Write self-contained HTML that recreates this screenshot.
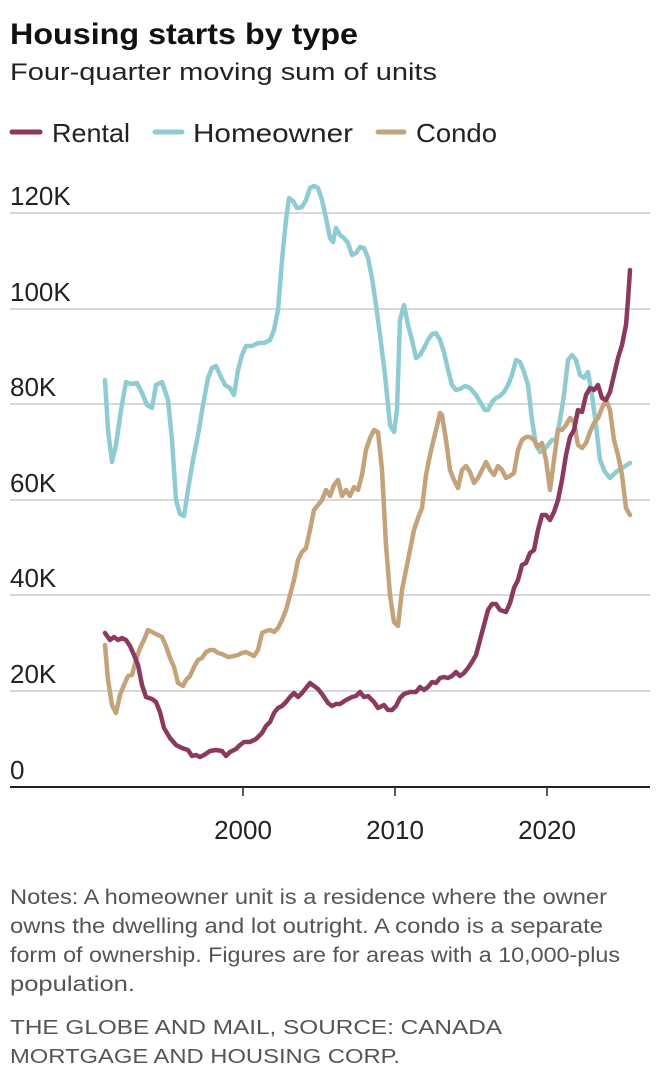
<!DOCTYPE html>
<html><head><meta charset="utf-8"><style>
body{margin:0;background:#fff;width:660px;height:1084px;overflow:hidden;font-family:"Liberation Sans",sans-serif;}
</style></head><body>
<svg width="660" height="1084" xmlns="http://www.w3.org/2000/svg" font-family="Liberation Sans, sans-serif">
<text x="10" y="44" font-size="30" font-weight="bold" fill="#111" textLength="348" lengthAdjust="spacingAndGlyphs">Housing starts by type</text>
<text x="10" y="80" font-size="24" fill="#222" textLength="427" lengthAdjust="spacingAndGlyphs">Four-quarter moving sum of units</text>
<line x1="12" y1="132" x2="40" y2="132" stroke="#8b3a5e" stroke-width="5" stroke-linecap="round"/>
<text x="52" y="142" font-size="26" fill="#222" textLength="78" lengthAdjust="spacingAndGlyphs">Rental</text>
<line x1="155" y1="132" x2="182" y2="132" stroke="#8ecbd3" stroke-width="5" stroke-linecap="round"/>
<text x="193" y="142" font-size="26" fill="#222" textLength="160" lengthAdjust="spacingAndGlyphs">Homeowner</text>
<line x1="378" y1="132" x2="404" y2="132" stroke="#c4a27a" stroke-width="5" stroke-linecap="round"/>
<text x="416" y="142" font-size="26" fill="#222" textLength="81" lengthAdjust="spacingAndGlyphs">Condo</text>
<g stroke="#ccc" stroke-width="1.5">
<line x1="10" y1="213" x2="650" y2="213"/><line x1="10" y1="309" x2="650" y2="309"/>
<line x1="10" y1="404" x2="650" y2="404"/><line x1="10" y1="500" x2="650" y2="500"/>
<line x1="10" y1="595" x2="650" y2="595"/><line x1="10" y1="691" x2="650" y2="691"/>
</g>
<line x1="10" y1="787" x2="650" y2="787" stroke="#222" stroke-width="2"/>
<g stroke="#222" stroke-width="1.5"><line x1="243" y1="787" x2="243" y2="796"/><line x1="395" y1="787" x2="395" y2="796"/><line x1="547" y1="787" x2="547" y2="796"/></g>
<g font-size="26" fill="#222">
<text x="10" y="205">120K</text><text x="10" y="301">100K</text><text x="10" y="396">80K</text>
<text x="10" y="492">60K</text><text x="10" y="587">40K</text><text x="10" y="683">20K</text><text x="10" y="779">0</text>
<text x="243" y="839" text-anchor="middle">2000</text><text x="395" y="839" text-anchor="middle">2010</text><text x="547" y="839" text-anchor="middle">2020</text>
</g>
<g fill="none" stroke-width="4.5" stroke-linejoin="round" stroke-linecap="round">
<polyline stroke="#8ecbd3" points="105,380 108,430 112,462 116,445 121,410 126,382 131,384 137,383 142,393 147,405 152,408 156,385 162,382 168,400 172,440 176,500 180,514 184,516 188,490 193,460 198,435 203,405 208,378 212,368 216,366 220,375 225,385 230,388 234,395 238,370 242,355 246,346 252,346 258,343 264,343 270,340 274,330 278,310 282,260 286,220 289,198 293,201 297,208 302,207 306,200 310,188 314,186 318,188 322,200 326,218 330,238 333,242 336,228 340,235 344,238 348,243 352,255 356,253 360,247 364,248 368,258 372,278 376,305 380,335 385,375 390,425 394,432 397,410 400,320 404,305 408,325 412,340 416,358 420,355 424,348 428,340 432,334 436,333 440,340 444,352 448,370 452,385 456,390 460,389 465,386 470,388 476,395 480,402 485,410 488,410 492,402 496,398 500,396 504,392 508,385 512,375 516,360 520,362 524,372 528,385 532,420 536,445 540,452 544,450 548,445 552,440 556,440 560,420 564,395 568,360 572,355 576,360 580,375 584,378 588,372 592,395 596,425 600,460 605,472 610,478 616,472 622,468 630,463"/>
<polyline stroke="#c4a27a" points="105,645 108,680 112,705 116,713 120,695 124,685 128,676 132,675 136,660 140,648 144,640 148,630 152,632 156,634 162,637 166,646 170,658 174,667 178,683 183,686 186,680 190,676 194,667 198,660 202,658 206,652 210,650 214,650 218,653 222,654 228,657 234,656 238,655 242,653 246,652 250,654 254,656 258,650 262,633 266,631 270,630 274,632 278,628 282,620 286,610 290,595 294,580 298,560 302,552 306,548 310,530 314,510 318,505 322,500 326,490 330,496 334,485 338,480 342,496 346,490 350,496 354,487 358,490 362,475 366,450 370,438 374,430 378,432 382,470 386,545 390,595 394,622 398,626 402,590 406,570 410,550 414,530 418,518 422,508 426,475 430,455 434,438 438,422 440,413 442,415 446,440 450,470 454,480 458,488 462,470 466,466 470,472 474,483 478,478 482,470 486,462 490,470 494,475 498,466 502,470 506,478 510,476 514,473 518,450 522,440 526,437 530,437 534,440 538,447 542,443 546,460 550,490 554,460 558,430 562,430 566,425 570,418 574,422 578,445 582,448 586,443 590,432 594,423 598,418 602,408 606,400 610,410 614,440 618,455 622,475 626,508 630,515"/>
<polyline stroke="#8b3a5e" points="105,633 110,640 114,637 118,640 122,638 126,640 130,646 134,655 138,665 142,685 146,697 152,699 156,702 160,712 164,728 170,738 176,745 182,748 188,750 192,756 196,755 200,757 204,755 210,751 216,750 222,751 226,756 230,752 236,749 240,745 244,742 250,742 256,739 262,733 266,726 270,722 274,713 278,708 282,706 286,702 290,697 294,693 298,697 302,693 306,688 310,683 314,686 318,689 322,694 328,703 332,706 336,704 340,704 346,700 352,697 356,696 360,692 364,697 368,696 374,702 378,708 384,705 388,710 392,710 396,706 400,698 404,694 410,692 416,692 420,687 424,690 428,687 432,682 436,683 440,678 444,677 448,678 452,676 456,672 460,676 464,673 468,668 472,662 476,655 480,640 484,625 488,610 492,604 496,604 500,610 506,612 510,603 514,588 518,580 522,565 526,563 530,553 534,550 538,530 542,515 546,515 550,520 554,512 558,500 562,480 566,455 570,437 574,430 578,410 582,412 586,395 590,388 594,390 598,385 602,398 606,400 610,392 614,375 618,358 622,345 626,325 628,300 630,270"/>
</g>
<g font-size="21" fill="#555">
<text x="10" y="904" textLength="597" lengthAdjust="spacingAndGlyphs">Notes: A homeowner unit is a residence where the owner</text>
<text x="10" y="933" textLength="593" lengthAdjust="spacingAndGlyphs">owns the dwelling and lot outright. A condo is a separate</text>
<text x="10" y="962" textLength="610" lengthAdjust="spacingAndGlyphs">form of ownership. Figures are for areas with a 10,000-plus</text>
<text x="10" y="991" textLength="125" lengthAdjust="spacingAndGlyphs">population.</text>
</g>
<g font-size="20" fill="#555">
<text x="10" y="1034" textLength="492" lengthAdjust="spacingAndGlyphs">THE GLOBE AND MAIL, SOURCE: CANADA</text>
<text x="10" y="1063" textLength="390" lengthAdjust="spacingAndGlyphs">MORTGAGE AND HOUSING CORP.</text>
</g>
</svg>
</body></html>
